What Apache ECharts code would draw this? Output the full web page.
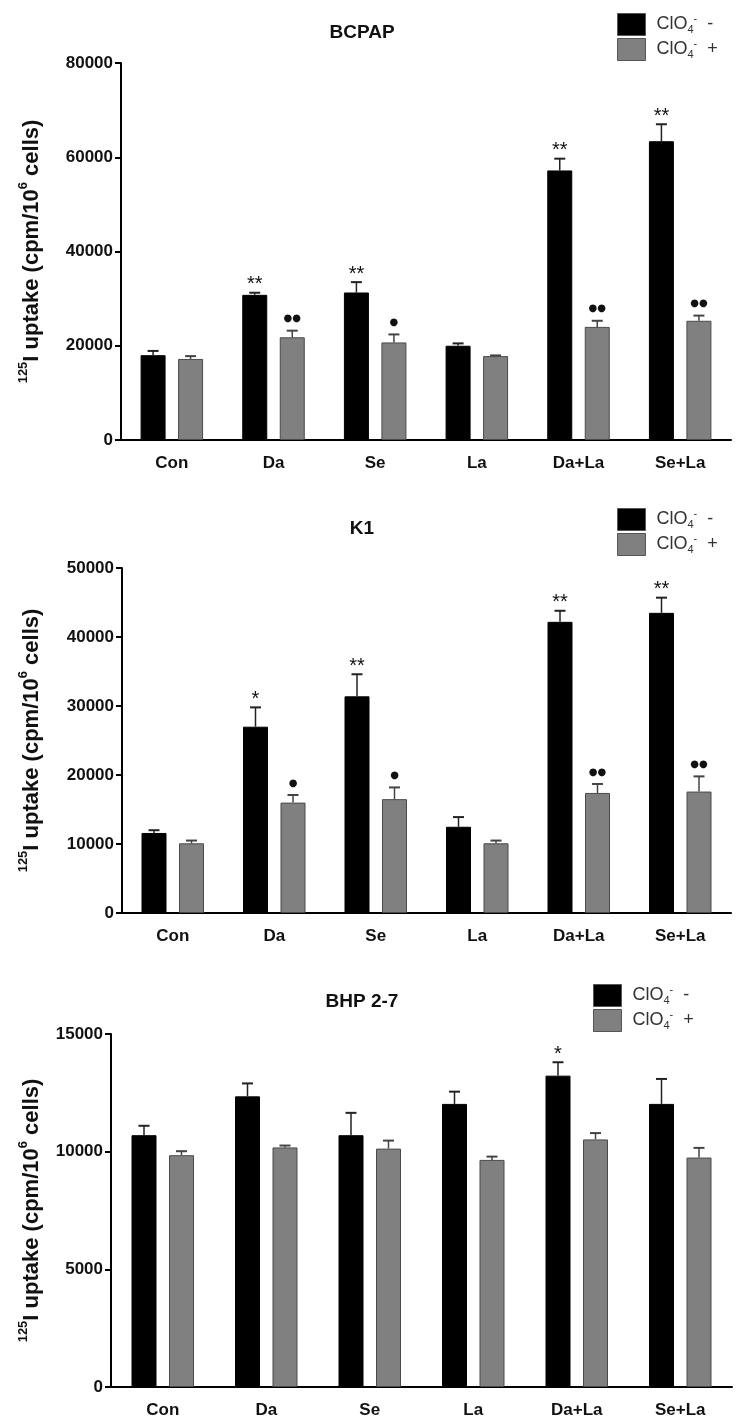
<!DOCTYPE html>
<html>
<head>
<meta charset="utf-8">
<script src="https://cdn.jsdelivr.net/npm/echarts@6/dist/echarts.min.js"></script>
<style>
html,body{margin:0;padding:0;background:#fff;}
#chart{width:739px;height:1419px;}
</style>
</head>
<body>
<div id="chart"></div>
<script>
// ---------- data ----------
const categories = ['Con', 'Da', 'Se', 'La', 'Da+La', 'Se+La'];
const panelTitles = ['BCPAP', 'K1', 'BHP 2-7'];
const yMax = [80000, 50000, 15000];
const yInterval = [20000, 10000, 5000];

// BCPAP
const bcpapMinus    = [18000, 30800, 31300, 20000, 57200, 63400];
const bcpapMinusErr = [900, 450, 2200, 500, 2500, 3600];
const bcpapPlus     = [17200, 21800, 20700, 17800, 24000, 25300];
const bcpapPlusErr  = [600, 1400, 1700, 150, 1300, 1100];
const bcpapMinusSig = ['', '**', '**', '', '**', '**'];
const bcpapPlusSig  = ['', '●●', '●', '', '●●', '●●'];

// K1
const k1Minus    = [11600, 27000, 31400, 12500, 42200, 43500];
const k1MinusErr = [400, 2800, 3200, 1400, 1600, 2200];
const k1Plus     = [10100, 16000, 16500, 10100, 17400, 17600];
const k1PlusErr  = [400, 1100, 1700, 400, 1300, 2200];
const k1MinusSig = ['', '*', '**', '', '**', '**'];
const k1PlusSig  = ['', '●', '●', '', '●●', '●●'];

// BHP 2-7
const bhpMinus    = [10700, 12350, 10700, 12030, 13230, 12030];
const bhpMinusErr = [400, 550, 950, 520, 570, 1060];
const bhpPlus     = [9850, 10180, 10130, 9650, 10520, 9750];
const bhpPlusErr  = [170, 80, 340, 140, 270, 410];
const bhpMinusSig = ['', '', '', '', '*', ''];
const bhpPlusSig  = ['', '', '', '', '', ''];

const panels = [
  {minus: bcpapMinus, minusErr: bcpapMinusErr, plus: bcpapPlus, plusErr: bcpapPlusErr, minusSig: bcpapMinusSig, plusSig: bcpapPlusSig},
  {minus: k1Minus, minusErr: k1MinusErr, plus: k1Plus, plusErr: k1PlusErr, minusSig: k1MinusSig, plusSig: k1PlusSig},
  {minus: bhpMinus, minusErr: bhpMinusErr, plus: bhpPlus, plusErr: bhpPlusErr, minusSig: bhpMinusSig, plusSig: bhpPlusSig}
];

// ---------- layout ----------
const grids = [
  {left: 121, top: 63, width: 610, height: 377},
  {left: 122, top: 568, width: 609, height: 345},
  {left: 111, top: 1034, width: 621, height: 354}
];
const titleTops = [23, 519, 992];
const legendPos = [{left: 617, top: 13}, {left: 617, top: 508}, {left: 593, top: 984}];
const nameGaps = [78, 79, 68];
const BAR_W = 25;
const GAP_RATIO = 0.5;
const OFF = (BAR_W + BAR_W * GAP_RATIO) / 2;

const FONT = 'Liberation Sans, Arial, sans-serif';

const chart = echarts.init(document.getElementById('chart'), null, {renderer: 'canvas'});

function errSeries(pi, vals, errs, sigs, sign, color, sigFont, sigOff) {
  return {
    type: 'custom',
    xAxisIndex: pi, yAxisIndex: pi,
    z: 5,
    silent: true,
    data: vals.map((v, i) => [i, v, errs[i]]),
    encode: {x: 0, y: 1},
    renderItem: function (params, api) {
      const idx = api.value(0), v = api.value(1), e = api.value(2);
      const b = api.coord([idx, v]);
      const t = api.coord([idx, v + e]);
      const x = b[0] + sign * OFF;
      const children = [
        {type: 'line', shape: {x1: x, y1: b[1], x2: x, y2: t[1]}, style: {stroke: color, lineWidth: 1.5}},
        {type: 'line', shape: {x1: x - 5.5, y1: t[1], x2: x + 5.5, y2: t[1]}, style: {stroke: color, lineWidth: 2}}
      ];
      const s = sigs[params.dataIndex];
      if (s) {
        children.push({
          type: 'text', x: x, y: t[1] - sigOff,
          style: {text: s, align: 'center', verticalAlign: 'middle', textAlign: 'center', textVerticalAlign: 'middle',
                  fill: '#111', font: sigFont}
        });
      }
      return {type: 'group', children: children};
    }
  };
}

const option = {
  animation: false,
  backgroundColor: '#fff',
  title: panelTitles.map((t, i) => ({
    text: t, left: 362, top: titleTops[i], textAlign: 'center', padding: 0,
    textStyle: {fontFamily: FONT, fontWeight: 'bold', fontSize: 19, color: '#111'}
  })),
  legend: legendPos.map((p, i) => ({
    left: p.left, top: p.top, orient: 'vertical', padding: 0,
    itemWidth: 28, itemHeight: 22, itemGap: 2, icon: 'rect',
    selectedMode: false,
    data: [
      {name: 'minus', itemStyle: {color: '#000', borderColor: '#555', borderWidth: 1}},
      {name: 'plus', itemStyle: {color: '#808080', borderColor: '#555', borderWidth: 1}}
    ],
    formatter: function (name) {
      return name === 'minus' ? '{a|ClO}{s|4}{p|-}{a|  -}' : '{a|ClO}{s|4}{p|-}{a|  +}';
    },
    textStyle: {
      fontFamily: FONT, fontSize: 17, color: '#333', padding: [0, 0, 0, 6],
      rich: {
        a: {fontFamily: FONT, fontSize: 18, color: '#333', lineHeight: 22, verticalAlign: 'middle'},
        s: {fontFamily: FONT, fontSize: 11, color: '#333', lineHeight: 11, verticalAlign: 'bottom'},
        p: {fontFamily: FONT, fontSize: 11, color: '#333', lineHeight: 11, verticalAlign: 'top'}
      }
    }
  })),
  grid: grids.map(g => Object.assign({containLabel: false}, g)),
  xAxis: grids.map((g, i) => ({
    type: 'category', gridIndex: i, data: categories,
    axisLine: {lineStyle: {color: '#000', width: 2}},
    axisTick: {alignWithLabel: true, length: 5, lineStyle: {color: '#000', width: 2}},
    axisLabel: {fontFamily: FONT, fontWeight: 'bold', fontSize: 17, color: '#111', margin: 15},
    splitLine: {show: false}
  })),
  yAxis: grids.map((g, i) => ({
    type: 'value', gridIndex: i, min: 0, max: yMax[i], interval: yInterval[i],
    axisLine: {show: true, lineStyle: {color: '#000', width: 2}},
    axisTick: {show: true, length: 6, lineStyle: {color: '#000', width: 2}},
    axisLabel: {fontFamily: FONT, fontWeight: 'bold', fontSize: 17, color: '#111', margin: 8,
                formatter: v => String(v)},
    splitLine: {show: false},
    name: '{s|125}{b|I uptake (cpm/10}{s|6}{b| cells)}',
    nameLocation: 'middle', nameRotate: 90, nameGap: nameGaps[i],
    nameTextStyle: {
      fontFamily: FONT, fontWeight: 'bold', fontSize: 22, color: '#111',
      rich: {
        b: {fontFamily: FONT, fontWeight: 'bold', fontSize: 22, color: '#111', lineHeight: 26, verticalAlign: 'bottom'},
        s: {fontFamily: FONT, fontWeight: 'bold', fontSize: 13, color: '#111', lineHeight: 13, verticalAlign: 'top'}
      }
    }
  })),
  series: []
};

panels.forEach((p, i) => {
  option.series.push({
    name: 'minus', type: 'bar', xAxisIndex: i, yAxisIndex: i,
    data: p.minus, barWidth: BAR_W, barGap: (GAP_RATIO * 100) + '%',
    itemStyle: {color: '#000', borderColor: '#000', borderWidth: 1}
  });
  option.series.push({
    name: 'plus', type: 'bar', xAxisIndex: i, yAxisIndex: i,
    data: p.plus, barWidth: BAR_W, barGap: (GAP_RATIO * 100) + '%',
    itemStyle: {color: '#808080', borderColor: '#4a4a4a', borderWidth: 1}
  });
  option.series.push(errSeries(i, p.minus, p.minusErr, p.minusSig, -1, '#222', '20px ' + FONT, 8));
  option.series.push(errSeries(i, p.plus, p.plusErr, p.plusSig, 1, '#444', '10px DejaVu Sans', 12));
});

chart.setOption(option);
</script>
</body>
</html>
